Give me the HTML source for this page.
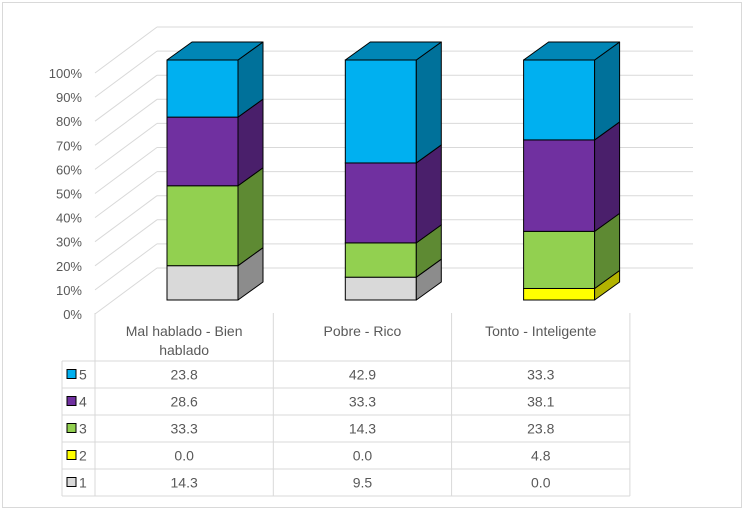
<!DOCTYPE html>
<html><head><meta charset="utf-8"><style>
body{margin:0;background:#fff;}
svg{display:block;font-family:"Liberation Sans",sans-serif;}
</style></head><body>
<svg id="chart" width="747" height="511" viewBox="0 0 747 511">
<rect x="2.5" y="2.5" width="739" height="505" fill="#fff" stroke="#d9d9d9"/>
<g id="grid"></g>
<g id="axis"></g>
<g id="bars"></g>
<g id="table"></g>
</svg>
<script>
const categories = ["Mal hablado - Bien hablado", "Pobre - Rico", "Tonto - Inteligente"];
const seriesNames = ["5", "4", "3", "2", "1"];
const s1 = [14.3, 9.5, 0.0];
const s2 = [0.0, 0.0, 4.8];
const s3 = [33.3, 14.3, 23.8];
const s4 = [28.6, 33.3, 38.1];
const s5 = [23.8, 42.9, 33.3];
const yTicks = ["0%","10%","20%","30%","40%","50%","60%","70%","80%","90%","100%"];

const NS="http://www.w3.org/2000/svg";
function mk(tag, attrs, parent){const e=document.createElementNS(NS,tag);for(const k in attrs)e.setAttribute(k,attrs[k]);parent.appendChild(e);return e;}
const grid=document.getElementById('grid'), axis=document.getElementById('axis'), bars=document.getElementById('bars'), table=document.getElementById('table');
const backY0=268, backYspan=241, backX0=157, backX1=693, depthDX=-62, depthDY=46;
const barY0=300, barSpan=240, barW=71, bdx=25, bdy=-18;
const colLeft=95, colW=178.3;
function yBack(p){return backY0 - p*backYspan;}
function yBar(p){return barY0 - p*barSpan;}
function xCol(i){return colLeft + i*colW;}

yTicks.forEach((t,i)=>{
  const p=i/10, y=yBack(p);
  const l=mk('line',{x1:backX0,y1:y,x2:backX1,y2:y,stroke:'#d9d9d9','stroke-width':1},grid);
  
  
  const d=mk('line',{x1:backX0,y1:y,x2:backX0+depthDX,y2:y+depthDY,stroke:'#d9d9d9','stroke-width':1},grid);
  
  
  const tx=mk('text',{x:82,y:y+depthDY+5,'text-anchor':'end','font-size':13,fill:'#595959'},axis);
  tx.textContent=t;
  
  
});

const fronts={"1":"#d9d9d9","2":"#ffff00","3":"#92d050","4":"#7030a0","5":"#00b0f0"};
const sides={"1":"#8c8c8c","2":"#b3b300","3":"#5e8a33","4":"#4a1f6b","5":"#00719a"};
const tops={"1":"#a6a6a6","2":"#cccc00","3":"#6f9e3e","4":"#58267f","5":"#0086b6"};
const stackOrder=[["1",s1],["2",s2],["3",s3],["4",s4],["5",s5]];

categories.forEach((c,i)=>{
  const total=stackOrder.reduce((a,s)=>a+s[1][i],0);
  let cum=0;
  const x=xCol(i)+72;
  let last=null;
  stackOrder.forEach(([name,arr])=>{
    const v=arr[i]; if(v<=0) return;
    const yb=yBar(cum/total), yt=yBar((cum+v)/total);
    cum+=v;
    const g=mk('g',{},bars);
    
    
    mk('rect',{x:x,y:yt,width:barW,height:yb-yt,fill:fronts[name],stroke:'#000','stroke-width':1},g);
    mk('polygon',{points:`${x+barW},${yb} ${x+barW+bdx},${yb+bdy} ${x+barW+bdx},${yt+bdy} ${x+barW},${yt}`,fill:sides[name],stroke:'#000','stroke-width':1,'stroke-linejoin':'round'},g);
    last={name,yt};
  });
  if(last){
    const p=mk('polygon',{points:`${x},${last.yt} ${x+bdx},${last.yt+bdy} ${x+barW+bdx},${last.yt+bdy} ${x+barW},${last.yt}`,fill:tops[last.name],stroke:'#000','stroke-width':1,'stroke-linejoin':'round'},bars);
    
    
  }
});

const rowTop=361, rowH=27, tableLeft=62;
const rows=[["5",s5],["4",s4],["3",s3],["2",s2],["1",s1]];
const tableRight=xCol(3);
const bc='#d9d9d9';
for(let k=0;k<=3;k++){
  const x=xCol(k);
  const l=mk('line',{x1:x,y1:313,x2:x,y2:rowTop+rows.length*rowH,stroke:bc},table);
  
  
}
mk('line',{x1:tableLeft,y1:rowTop,x2:tableLeft,y2:rowTop+rows.length*rowH,stroke:bc},table);
for(let r=0;r<=rows.length;r++){
  const y=rowTop+r*rowH;
  mk('line',{x1:tableLeft,y1:y,x2:tableRight,y2:y,stroke:bc},table);
}
categories.forEach((c,i)=>{
  const cx=xCol(i)+colW/2;
  const t=mk('text',{x:cx,y:336,'text-anchor':'middle','font-size':14,fill:'#595959'},table);
  
  
  if(c.length>22){
    const parts=["Mal hablado - Bien","hablado"];
    parts.forEach((p,j)=>{const ts=mk('tspan',{x:cx,dy:j?19:0},t);ts.textContent=p;});
  } else t.textContent=c;
});
rows.forEach(([name,arr],r)=>{
  const cy=rowTop+r*rowH+rowH/2;
  const key=mk('rect',{x:67,y:cy-5,width:9,height:9,fill:fronts[name],stroke:'#000','stroke-width':1},table);
  
  
  const lt=mk('text',{x:79,y:cy+5,'font-size':14,fill:'#595959'},table);
  lt.textContent=name;
  
  
  arr.forEach((v,i)=>{
    const t=mk('text',{x:xCol(i)+colW/2,y:cy+5,'text-anchor':'middle','font-size':14,fill:'#595959'},table);
    t.textContent=v.toFixed(1);
    
    
  });
});
</script>
</body></html>
